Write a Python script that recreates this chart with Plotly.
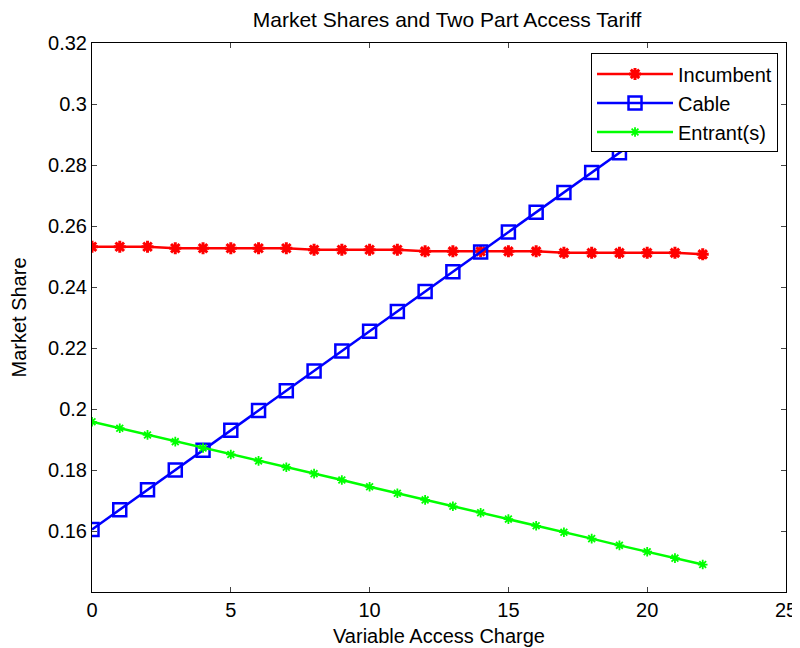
import plotly.graph_objects as go

x_vals = list(range(23))
incumbent = [0.2532, 0.2532, 0.2532, 0.2527, 0.2527, 0.2527, 0.2527, 0.2527, 0.2522, 0.2522,
             0.2522, 0.2522, 0.2517, 0.2517, 0.2517, 0.2517, 0.2517, 0.2512, 0.2512, 0.2512,
             0.2512, 0.2512, 0.2507]
cable = [0.1605, 0.1670, 0.1735, 0.1800, 0.1865, 0.1930, 0.1995, 0.2060, 0.2125, 0.2190,
         0.2255, 0.2320, 0.2385, 0.2450, 0.2515, 0.2580, 0.2645, 0.2710, 0.2775, 0.2840,
         0.2905, 0.2970, 0.3035]
entrant = [0.1958, 0.1937, 0.1915, 0.1893, 0.1872, 0.1851, 0.1830, 0.1809, 0.1788, 0.1767,
           0.1745, 0.1724, 0.1702, 0.1681, 0.1660, 0.1639, 0.1617, 0.1596, 0.1575, 0.1553,
           0.1532, 0.1511, 0.1490]
x_ticks = [0, 5, 10, 15, 20, 25]
y_ticks = [0.14, 0.16, 0.18, 0.2, 0.22, 0.24, 0.26, 0.28, 0.3, 0.32]
y_tick_text = ["", "0.16", "0.18", "0.2", "0.22", "0.24", "0.26", "0.28", "0.3", "0.32"]

fig = go.Figure()
fig.add_trace(go.Scatter(x=x_vals, y=incumbent, name="Incumbent", mode="lines+markers",
                         line=dict(color="#ff0000", width=2.5),
                         marker=dict(symbol="asterisk-open", size=10, color="#ff0000",
                                     line=dict(color="#ff0000", width=3))))
fig.add_trace(go.Scatter(x=x_vals, y=cable, name="Cable", mode="lines+markers",
                         line=dict(color="#0000ff", width=2.5),
                         marker=dict(symbol="square-open", size=13, color="#0000ff",
                                     line=dict(color="#0000ff", width=2.5))))
fig.add_trace(go.Scatter(x=x_vals, y=entrant, name="Entrant(s)", mode="lines+markers",
                         line=dict(color="#00ff00", width=2.5),
                         marker=dict(symbol="asterisk-open", size=8, color="#00ff00",
                                     line=dict(color="#00ff00", width=1.8))))

font_family = "Liberation Sans, Arial, sans-serif"
fig.update_layout(
    width=800, height=648,
    margin=dict(l=84, r=22, t=35, b=64, autoexpand=False),
    paper_bgcolor="white", plot_bgcolor="white",
    font=dict(family=font_family, size=20, color="black"),
    title=dict(text="Market Shares and Two Part Access Tariff", x=0.5489, xanchor="center",
               y=0.9815, yanchor="middle", font=dict(size=21, color="black")),
    showlegend=True,
    legend=dict(x=0.9885, y=0.981, xanchor="right", yanchor="top",
                bordercolor="black", borderwidth=1, bgcolor="white",
                font=dict(size=20), tracegroupgap=0, itemwidth=76),
)
fig.update_xaxes(range=[0, 25], tickvals=x_ticks, ticks="inside", ticklen=5,
                 showline=True, linecolor="black", linewidth=1, mirror="ticks",
                 showgrid=False, zeroline=False, tickfont=dict(size=20), automargin=False,
                 title=dict(text="Variable Access Charge", font=dict(size=20), standoff=8))
fig.update_yaxes(range=[0.14, 0.32], tickvals=y_ticks, ticktext=y_tick_text,
                 ticks="inside", ticklen=5,
                 showline=True, linecolor="black", linewidth=1, mirror="ticks",
                 showgrid=False, zeroline=False, tickfont=dict(size=20), automargin=False,
                 title=dict(text="Market Share", font=dict(size=20), standoff=16))

fig.write_html("out.html")
